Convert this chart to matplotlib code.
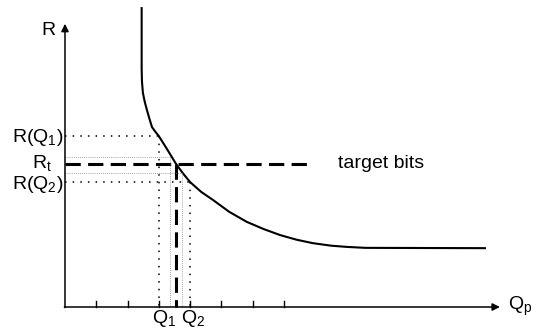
import matplotlib
matplotlib.use("Agg")
import matplotlib.pyplot as plt

plt.rcParams['font.family'] = ['Liberation Sans', 'DejaVu Sans']
plt.rcParams['mathtext.fontset'] = 'custom'
plt.rcParams['mathtext.rm'] = 'Liberation Sans'
plt.rcParams['mathtext.it'] = 'Liberation Sans'

# rate-quantization curve (tick spacing = 1 unit)
curve_q = [2.45, 2.45, 2.46, 2.49, 2.55, 2.62, 2.70, 2.78, 2.88, 3.0, 3.27, 3.55,
           3.77, 4.0, 4.35, 4.73, 5.25, 5.81, 6.35, 6.87, 7.4, 7.92, 8.5, 9.01,
           9.6, 13.42]
curve_r = [9.55, 7.6, 7.2, 6.84, 6.55, 6.29, 6.01, 5.75, 5.61, 5.46, 5.03, 4.57,
           4.27, 3.99, 3.68, 3.42, 3.04, 2.72, 2.49, 2.30, 2.15, 2.04, 1.96, 1.92,
           1.89, 1.88]

q_ticks = [1, 2, 3, 4, 5, 6, 7]
q1, q2 = 3.0, 4.0
r_q1, r_q2 = 5.46, 3.99
r_target, q_target = 4.57, 3.55
target_end = 7.92
# faint helper lines between Q1 and Q2
faint_q = [3.35, 3.74]
faint_r = [4.79, 4.28]

fig = plt.figure(figsize=(5.4, 3.3), dpi=100)
ax = fig.add_axes([0, 0, 1, 1])
ax.set_xlim(-2.077, 15.18)
ax.set_ylim(-0.735, 9.81)
ax.axis('off')

# axes with arrows
ax.annotate('', xy=(0, 9.05), xytext=(0, -0.02),
            arrowprops=dict(arrowstyle='-|>', color='black', lw=1.1,
                            mutation_scale=11, shrinkA=0, shrinkB=0))
ax.annotate('', xy=(13.9, 0), xytext=(-0.02, 0),
            arrowprops=dict(arrowstyle='-|>', color='black', lw=1.1,
                            mutation_scale=11, shrinkA=0, shrinkB=0))
for t in q_ticks:
    ax.plot([t, t], [0, 0.2], color='black', lw=1.0)

# curve
ax.plot(curve_q, curve_r, color='black', lw=1.5, solid_joinstyle='round')

# target bits
ax.plot([0, target_end], [r_target, r_target], color='black', lw=2.2, dashes=(5, 2.4))
ax.plot([q_target, q_target], [r_target, 0], color='black', lw=2.2, dashes=(5, 2.4))

# dotted lines to Q1 / Q2
dot = dict(color='black', lw=1.1, dashes=(1, 4))
ax.plot([0, q1], [r_q1, r_q1], **dot)
ax.plot([q1, q1], [r_q1, 0], **dot)
ax.plot([0, q2], [r_q2, r_q2], **dot)
ax.plot([q2, q2], [r_q2, 0], **dot)

faint = dict(color='#888888', lw=0.6, dashes=(1, 1.5))
for fq, fr in zip(faint_q, faint_r):
    ax.plot([0, fq], [fr, fr], **faint)
    ax.plot([fq, fq], [fr, 0], **faint)

fs = 14
ax.text(-0.54, 8.85, 'R', fontsize=fs, ha='center', va='center')
ax.text(-0.06, r_q1 - 0.03, r'R(Q$_1$)', fontsize=fs, ha='right', va='center')
ax.text(-0.73, r_target + 0.03, r'R$_{\mathrm{t}}$', fontsize=fs, ha='center', va='center')
ax.text(-0.06, r_q2 - 0.06, r'R(Q$_2$)', fontsize=fs, ha='right', va='center')
ax.text(q1 + 0.16, -0.70, r'Q$_1$', fontsize=fs, ha='center', va='bottom')
ax.text(q2 + 0.08, -0.70, r'Q$_2$', fontsize=fs, ha='center', va='bottom')
ax.text(14.15, 0.03, r'Q$_{\mathrm{p}}$', fontsize=fs, ha='left', va='center')
ax.text(8.72, r_target + 0.03, 'target bits', fontsize=fs, ha='left', va='center')

fig.savefig('out.png', dpi=100)
